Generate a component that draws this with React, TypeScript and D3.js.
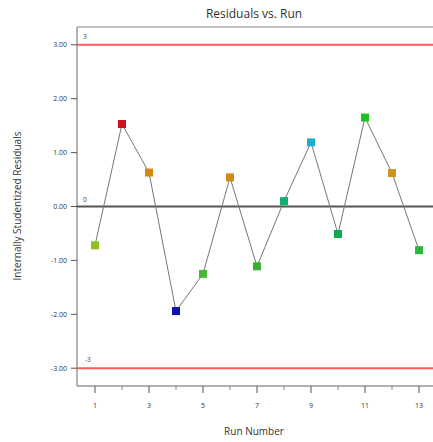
import React from "react";
import * as d3 from "d3";

const runs = [1, 2, 3, 4, 5, 6, 7, 8, 9, 10, 11, 12, 13];
const residuals = [-0.72, 1.53, 0.63, -1.94, -1.25, 0.54, -1.11, 0.1, 1.19, -0.51, 1.65, 0.62, -0.81];
const pointColors = ["#8cc21a", "#cc1020", "#d08a10", "#1010b0", "#48b838", "#d08a18", "#38b030", "#10b070", "#20b0cc", "#10a850", "#20c020", "#d09020", "#28b840"];
const yTicks = [-3, -2, -1, 0, 1, 2, 3];
const xMajorTicks = [1, 3, 5, 7, 9, 11, 13];
const xMinorTicks = [2, 4, 6, 8, 10, 12];
const limits = [3, -3];

export default function App() {
  const W = 433, H = 442;
  const left = 77, top = 27, right = 433, bottom = 386;
  const x = d3.scaleLinear().domain([1, 13]).range([95, 419]);
  const y = d3.scaleLinear().domain([-3.33, 3.33]).range([bottom, top]);
  const line = d3.line<number>().x((_, i) => x(runs[i])).y((d) => y(d));
  const font = "'Open Sans', 'DejaVu Sans', sans-serif";
  const ms = 8;
  return (
    <svg width={W} height={H} style={{ position: "fixed", left: 0, top: 0, background: "#fff" }} fontFamily={font}>
      <rect x={0} y={0} width={W} height={H} fill="#fff" />
      <text x={254} y={18} textAnchor="middle" fontSize={12} fill="#333">Residuals vs. Run</text>
      {/* frame */}
      <line x1={left} x2={right} y1={top} y2={top} stroke="#aaa" strokeWidth={1.5} />
      <line x1={left} x2={left} y1={top} y2={bottom} stroke="#999" strokeWidth={1.5} />
      <line x1={left} x2={right} y1={bottom} y2={bottom} stroke="#999" strokeWidth={1.5} />
      {/* y ticks */}
      {yTicks.map((t) => (
        <g key={t}>
          <line x1={left - 6} x2={left} y1={y(t)} y2={y(t)} stroke="#555" strokeWidth={1} />
          <text x={left - 10} y={y(t) + 2.5} textAnchor="end" fontSize={7} fill="#333">{t.toFixed(2)}</text>
        </g>
      ))}
      {/* x ticks */}
      {xMajorTicks.map((t) => (
        <g key={t}>
          <line x1={x(t)} x2={x(t)} y1={bottom} y2={bottom + 7} stroke="#555" strokeWidth={1} />
          <text x={x(t)} y={bottom + 22} textAnchor="middle" fontSize={7} fill="#333">{t}</text>
        </g>
      ))}
      {xMinorTicks.map((t) => (
        <line key={t} x1={x(t)} x2={x(t)} y1={bottom} y2={bottom + 4} stroke="#888" strokeWidth={1} />
      ))}
      {/* limit lines */}
      {limits.map((l) => (
        <line key={l} x1={left} x2={right} y1={y(l)} y2={y(l)} stroke="#ff5a5a" strokeWidth={2} />
      ))}
      <line x1={left} x2={right} y1={y(0)} y2={y(0)} stroke="#555" strokeWidth={1.8} />
      <text x={83} y={y(3) - 6} fontSize={6.5} fill="#444">3</text>
      <text x={83} y={y(0) - 5} fontSize={6.5} fill="#444">0</text>
      <text x={85} y={y(-3) - 6} fontSize={6.5} fill="#444">-3</text>
      {/* series */}
      <path d={line(residuals) || ""} fill="none" stroke="#777" strokeWidth={1} />
      {residuals.map((v, i) => (
        <rect key={i} x={x(runs[i]) - ms / 2} y={y(v) - ms / 2} width={ms} height={ms} fill={pointColors[i]} />
      ))}
      <text x={254} y={435} textAnchor="middle" fontSize={10} fill="#333">Run Number</text>
      <text transform={`translate(21,206) rotate(-90)`} textAnchor="middle" fontSize={10} fill="#333">Internally Studentized Residuals</text>
    </svg>
  );
}
